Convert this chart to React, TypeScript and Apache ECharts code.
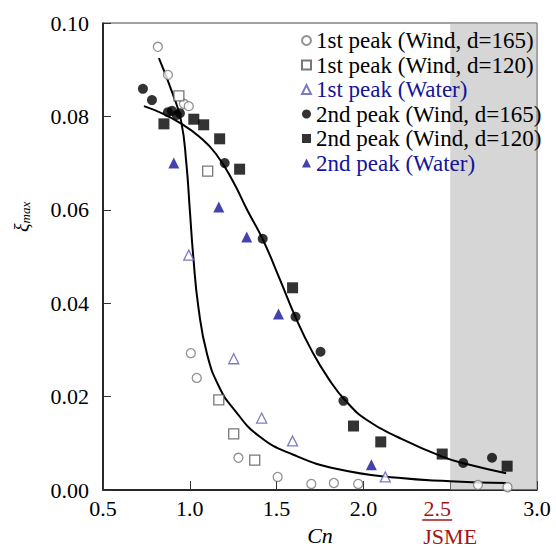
import React, { useEffect, useRef } from "react";
import * as echarts from "echarts";

// ---- data ----
const firstWind165: number[][] = [
  [0.816, 0.0949], [0.874, 0.0889], [0.966, 0.0827], [0.994, 0.0822],
  [1.006, 0.0293], [1.04, 0.024], [1.28, 0.0069], [1.506, 0.0028],
  [1.7, 0.0013], [1.83, 0.0015], [1.97, 0.0013], [2.66, 0.0011], [2.83, 0.0006],
];
const firstWind120: number[][] = [
  [0.937, 0.0844], [1.103, 0.0683], [1.167, 0.0193], [1.253, 0.012], [1.374, 0.0064],
];
const firstWater: number[][] = [
  [0.994, 0.0503], [1.253, 0.0281], [1.414, 0.0154], [1.592, 0.0105], [2.126, 0.0028],
];
const secondWind165: number[][] = [
  [0.73, 0.0859], [0.782, 0.0835], [0.874, 0.0809], [0.897, 0.0812], [0.925, 0.0803],
  [0.943, 0.0807], [1.201, 0.07], [1.42, 0.0538], [1.609, 0.0371], [1.753, 0.0296],
  [1.885, 0.0191], [2.575, 0.0058], [2.741, 0.0069],
];
const secondWind120: number[][] = [
  [0.851, 0.0784], [1.023, 0.0794], [1.08, 0.0782], [1.172, 0.0752], [1.287, 0.0687],
  [1.592, 0.0433], [1.943, 0.0137], [2.1, 0.0103], [2.454, 0.0077], [2.828, 0.0051],
];
const secondWater: number[][] = [
  [0.908, 0.07], [1.167, 0.0606], [1.328, 0.0542], [1.511, 0.0377], [2.046, 0.0054],
];
const curveFirst: number[][] = [
  [0.822, 0.0925], [0.9, 0.085], [0.95, 0.079], [0.98, 0.07], [1.0, 0.06],
  [1.02, 0.05], [1.05, 0.039], [1.1, 0.029], [1.17, 0.022], [1.25, 0.0175],
  [1.4, 0.0115], [1.6, 0.0075], [1.85, 0.0045], [2.2, 0.0026], [2.5, 0.0019],
  [2.822, 0.0015],
];
const curveSecond: number[][] = [
  [0.736, 0.0822], [0.85, 0.0805], [0.943, 0.0786], [1.057, 0.0756], [1.15, 0.072],
  [1.25, 0.066], [1.33, 0.06], [1.42, 0.0537], [1.52, 0.045], [1.609, 0.037],
  [1.7, 0.03], [1.8, 0.0238], [1.9, 0.019], [2.02, 0.015], [2.2, 0.0113],
  [2.45, 0.0072], [2.6, 0.0055], [2.822, 0.0036],
];
const seriesNames = [
  "1st peak (Wind, d=165)",
  "1st peak (Wind, d=120)",
  "1st peak (Water)",
  "2nd peak (Wind, d=165)",
  "2nd peak (Wind, d=120)",
  "2nd peak (Water)",
];
const shadeRange = [2.5, 3.0];
const xTicks = { min: 0.5, max: 3.0, interval: 0.5 };
const yTicks = { min: 0, max: 0.1, interval: 0.02 };

const SERIF = "Liberation Serif";
const RED = "#a31515";
const BLUE = "#14149a";

export default function App() {
  const ref = useRef<HTMLDivElement>(null);
  useEffect(() => {
    document.body.style.margin = "0";
    const chart = echarts.init(ref.current!, null, { renderer: "svg" });
    const scatter = (name: string, data: number[][], symbol: string, size: number, itemStyle: any) => ({
      name, type: "scatter", data, symbol, symbolSize: size, itemStyle, z: 3,
    });
    chart.setOption({
      animation: false,
      backgroundColor: "#fff",
      textStyle: { fontFamily: SERIF },
      grid: {
        left: 103, right: 19, top: 23, bottom: 58,
        outerBoundsMode: "none", containLabel: false,
        show: true, borderColor: "#444", borderWidth: 1,
      },
      legend: {
        orient: "vertical",
        left: 296,
        top: 24,
        z: 20,
        itemWidth: 9,
        itemHeight: 9,
        itemGap: 1.5,
        textStyle: { fontFamily: SERIF, fontSize: 23, lineHeight: 22, color: "#000" },
        data: seriesNames.map((n, i) => ({
          name: n,
          textStyle: { fontFamily: SERIF, fontSize: 23, color: i === 2 || i === 5 ? BLUE : "#000" },
        })),
      },
      xAxis: {
        type: "value",
        min: xTicks.min,
        max: xTicks.max,
        interval: xTicks.interval,
        name: "Cn",
        nameLocation: "middle",
        nameGap: 34,
        nameMoveOverlap: false,
        nameTextStyle: { fontFamily: SERIF, fontSize: 22, lineHeight: 22, fontStyle: "italic", color: "#000" },
        axisLine: { lineStyle: { color: "#000", width: 1.5 } },
        axisTick: { inside: true, length: 9, lineStyle: { color: "#333" } },
        splitLine: { show: false },
        axisLabel: {
          margin: 7,
          fontFamily: SERIF,
          fontSize: 22,
          lineHeight: 22,
          color: "#000",
          formatter: (v: number) =>
            Math.abs(v - 2.5) < 1e-9 ? "{r|2.5}{s| }\n{u| }{s| }\n{j|JSME}" : v.toFixed(1),
          rich: {
            r: { color: RED, fontFamily: SERIF, fontSize: 22, lineHeight: 22 },
            s: { width: 26, fontSize: 1, lineHeight: 2 },
            u: { width: 30, height: 1.5, fontSize: 1, lineHeight: 2, backgroundColor: RED },
            j: { color: RED, fontFamily: SERIF, fontSize: 22, lineHeight: 30 },
          },
        },
      },
      yAxis: {
        type: "value",
        min: yTicks.min,
        max: yTicks.max,
        interval: yTicks.interval,
        axisLine: { show: true, lineStyle: { color: "#000", width: 1.5 } },
        axisTick: { show: true, inside: true, length: 8, lineStyle: { color: "#333" } },
        splitLine: { show: false },
        axisLabel: {
          margin: 14,
          fontFamily: SERIF,
          fontSize: 22,
          color: "#000",
          formatter: (v: number) => v.toFixed(2),
        },
      },
      graphic: [
        {
          type: "text",
          x: 11,
          y: 232,
          rotation: Math.PI / 2,
          style: {
            text: "{a|ξ}{b|max}",
            rich: {
              a: { fontFamily: SERIF, fontStyle: "italic", fontSize: 20, fill: "#000" },
              b: { fontFamily: SERIF, fontStyle: "italic", fontSize: 13, fill: "#000", padding: [8, 0, 0, 0] },
            },
          },
        },
      ],
      series: [
        { name: "curveFirst", type: "line", data: curveFirst, smooth: 0.5, symbol: "none", lineStyle: { color: "#000", width: 2 }, z: 2, silent: true },
        { name: "curveSecond", type: "line", data: curveSecond, smooth: 0.5, symbol: "none", lineStyle: { color: "#000", width: 2 }, z: 2, silent: true },
        scatter(seriesNames[0], firstWind165, "circle", 9, { color: "#fff", borderColor: "#777", borderWidth: 1.3 }),
        scatter(seriesNames[1], firstWind120, "rect", 10, { color: "#fff", borderColor: "#555", borderWidth: 1.3 }),
        scatter(seriesNames[2], firstWater, "triangle", 10, { color: "#fff", borderColor: "#5a5ab4", borderWidth: 1.3 }),
        scatter(seriesNames[3], secondWind165, "circle", 10, { color: "#000" }),
        scatter(seriesNames[4], secondWind120, "rect", 11, { color: "#000" }),
        scatter(seriesNames[5], secondWater, "triangle", 11, { color: BLUE }),
        {
          name: "shade",
          type: "scatter",
          data: [],
          z: 10,
          silent: true,
          markArea: {
            silent: true,
            itemStyle: { color: "rgba(175,175,175,0.51)" },
            data: [[{ xAxis: shadeRange[0], yAxis: yTicks.min }, { xAxis: shadeRange[1], yAxis: yTicks.max }]],
          },
        },
      ],
    });
    return () => chart.dispose();
  }, []);
  return <div ref={ref} style={{ width: 556, height: 548 }} />;
}
